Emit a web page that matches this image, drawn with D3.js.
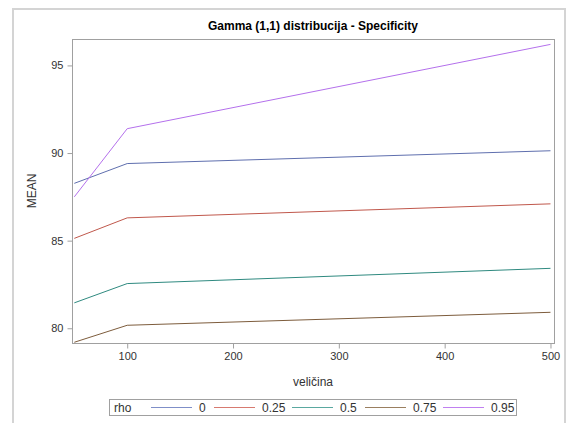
<!DOCTYPE html>
<html><head><meta charset="utf-8">
<script src="https://cdn.jsdelivr.net/npm/d3@7"></script>
<style>body{margin:0;background:#fff;font-family:Arial,"Liberation Sans",sans-serif;}</style>
</head><body><svg id="c" width="570" height="423"></svg>
<script>
const sizes = [50, 100, 500];
const rhoLabels = ["0", "0.25", "0.5", "0.75", "0.95"];
const rho0 = [88.27, 89.40, 90.13];
const rho025 = [85.13, 86.30, 87.10];
const rho05 = [81.45, 82.55, 83.42];
const rho075 = [79.20, 80.17, 80.91];
const rho095 = [87.50, 91.39, 96.20];
const xTicks = [100, 200, 300, 400, 500];
const yTicks = [80, 85, 90, 95];
const colors = ["#5f6fae", "#c0584c", "#2f8a80", "#7d5c3c", "#b470ec"];
const legendColors = ["#7f8fc8", "#d77a70", "#5aa8a0", "#9a7f60", "#c080f0"];
const seriesVals = [rho0, rho025, rho05, rho075, rho095];

const svg = d3.select("#c");
svg.append("rect").attr("x",13).attr("y",9).attr("width",552).attr("height",430)
  .attr("fill","#fff").attr("stroke","#d4d4d4").attr("stroke-width",2);

const L=72.5, R=554.5, T=39.5, B=343.5;
const x = d3.scaleLinear().domain([48.3, 503.8]).range([L, R]);
const y = d3.scaleLinear().domain([79.13, 96.48]).range([B, T]);

svg.append("text").attr("x",313).attr("y",30).attr("text-anchor","middle")
  .attr("font-size",12).attr("font-weight","bold").attr("fill","#000")
  .text("Gamma (1,1) distribucija - Specificity");

const line = d3.line().x((d,i)=>x(sizes[i])).y(d=>y(d));
const g = svg.append("g");
seriesVals.forEach((vals,k)=>{
  g.append("path").datum(vals).attr("d",line).attr("fill","none")
   .attr("stroke",colors[k]).attr("stroke-width",1);
});

svg.append("rect").attr("x",L).attr("y",T).attr("width",R-L).attr("height",B-T)
  .attr("fill","none").attr("stroke","#a0a0a0").attr("stroke-width",1);

const xa = svg.append("g").attr("transform",`translate(0,${B})`)
  .call(d3.axisBottom(x).tickValues(xTicks).tickSize(5).tickPadding(4).tickFormat(d3.format("d")));
const ya = svg.append("g").attr("transform",`translate(${L},0)`)
  .call(d3.axisLeft(y).tickValues(yTicks).tickSize(5).tickPadding(4).tickFormat(d3.format("d")));
[xa,ya].forEach(a=>{
  a.select(".domain").remove();
  a.selectAll(".tick line").attr("stroke","#a0a0a0");
  a.selectAll(".tick text").attr("font-size",11).attr("fill","#333")
   .attr("font-family","Arial, 'Liberation Sans', sans-serif");
});

svg.append("text").attr("x",313).attr("y",386).attr("text-anchor","middle")
  .attr("font-size",12).attr("fill","#333").text("veličina");
svg.append("text").attr("transform","translate(36,191) rotate(-90)").attr("text-anchor","middle")
  .attr("font-size",12).attr("fill","#333").text("MEAN");

// legend
const lg = svg.append("g");
lg.append("rect").attr("x",109.5).attr("y",399.5).attr("width",407).attr("height",16)
  .attr("fill","#fff").attr("stroke","#a0a0a0");
lg.append("text").attr("x",114).attr("y",412).attr("font-size",12).attr("fill","#333").text("rho");
const lx = [151, 214, 292, 365, 443];
rhoLabels.forEach((lab,k)=>{
  lg.append("rect").attr("x",lx[k]).attr("y",407).attr("width",41).attr("height",1)
    .attr("fill",legendColors[k]);
  lg.append("text").attr("x",lx[k]+48).attr("y",412).attr("font-size",12).attr("fill","#333").text(lab);
});
</script></body></html>
